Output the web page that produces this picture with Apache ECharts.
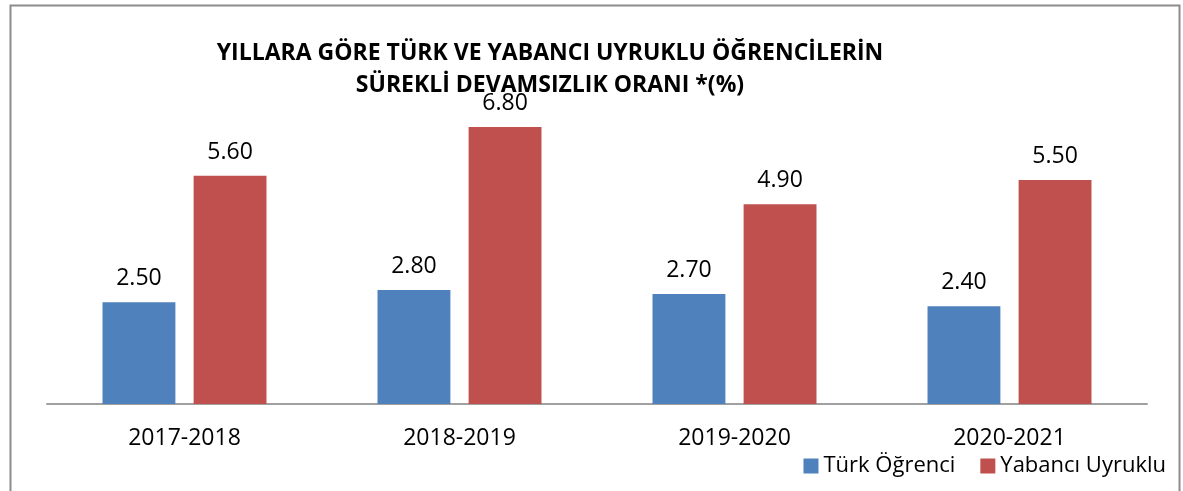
<!DOCTYPE html>
<html>
<head>
<meta charset="utf-8">
<script src="https://cdn.jsdelivr.net/npm/echarts@6/dist/echarts.min.js"></script>
<style>
  html, body { margin: 0; padding: 0; background: #fff; }
  #chart { width: 1183px; height: 491px; }
</style>
</head>
<body>
<div id="chart"></div>
<script>
const categories = ['2017-2018', '2018-2019', '2019-2020', '2020-2021']
const turkValues = [2.5, 2.8, 2.7, 2.4]
const yabanciValues = [5.6, 6.8, 4.9, 5.5]

const fontFamily = '"Open Sans", "Noto Sans", sans-serif'

const myChart = echarts.init(document.getElementById('chart'))
const option = {
  textStyle: { fontFamily: fontFamily },
  animation: false,
  graphic: [
    {
      type: 'rect',
      shape: { x: 10.5, y: 5.5, width: 1169, height: 500 },
      style: { fill: 'none', stroke: '#8c8c8c', lineWidth: 2 },
      z: -1,
    },
  ],
  title: {
    text: 'YILLARA GÖRE TÜRK VE YABANCI UYRUKLU ÖĞRENCİLERİN\nSÜREKLİ DEVAMSIZLIK ORANI *(%)',
    left: 545,
    top: 32,
    textAlign: 'center',
    textStyle: {
      fontFamily: fontFamily,
      fontWeight: 'bold',
      fontSize: 23,
      lineHeight: 32,
      color: '#000',
    },
  },
  grid: {
    top: 78,
    left: 47,
    right: 36,
    bottom: 87,
  },
  xAxis: {
    type: 'category',
    data: categories,
    axisLine: { show: true, lineStyle: { color: '#a0a0a0', width: 2 } },
    axisTick: { show: false },
    axisLabel: {
      fontSize: 23,
      color: '#000',
      margin: 23,
    },
  },
  yAxis: {
    type: 'value',
    min: 0,
    max: 8,
    show: false,
  },
  legend: {
    right: 12,
    bottom: 9,
    itemWidth: 15,
    itemHeight: 15,
    itemGap: 25,
    icon: 'rect',
    textStyle: { fontSize: 22, color: '#000', fontFamily: fontFamily },
    data: ['Türk Öğrenci', 'Yabancı Uyruklu'],
  },
  series: [
    {
      name: 'Türk Öğrenci',
      type: 'bar',
      data: turkValues,
      barWidth: '26.5%',
      barGap: '25%',
      itemStyle: { color: '#4f81bd' },
      label: {
        show: true,
        position: 'top',
        distance: 12,
        fontSize: 23,
        color: '#000',
        formatter: (p) => p.value.toFixed(2),
      },
    },
    {
      name: 'Yabancı Uyruklu',
      type: 'bar',
      data: yabanciValues,
      barWidth: '26.5%',
      itemStyle: { color: '#c0504d' },
      label: {
        show: true,
        position: 'top',
        distance: 12,
        fontSize: 23,
        color: '#000',
        formatter: (p) => p.value.toFixed(2),
      },
    },
  ],
}
myChart.setOption(option)
</script>
</body>
</html>
